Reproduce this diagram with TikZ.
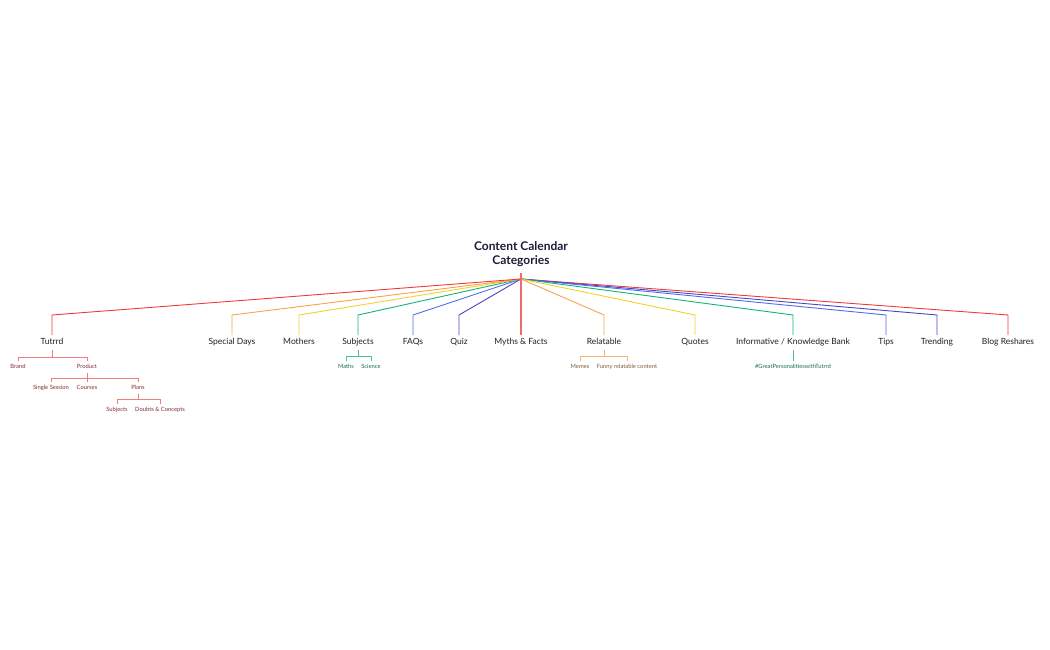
\documentclass[tikz,border=0pt]{standalone}
\usepackage{fontspec}
\setmainfont{Lato}
\usetikzlibrary{calc}
\definecolor{cred}{HTML}{EE3B36}
\definecolor{cpink}{HTML}{F06A6A}
\definecolor{corange}{HTML}{F7A24C}
\definecolor{cyellow}{HTML}{F4D02C}
\definecolor{cgreen}{HTML}{12B27A}
\definecolor{cblue}{HTML}{4F6AF0}
\definecolor{cindigo}{HTML}{4B45C2}
\definecolor{ctitle}{HTML}{1B1B3A}
\definecolor{clabel}{HTML}{1E1E28}
\definecolor{subred}{HTML}{7E2E2E}
\definecolor{subgreen}{HTML}{17704C}
\definecolor{suborange}{HTML}{7E5A38}
\definecolor{lred}{HTML}{F27B7B}
\definecolor{lgreen}{HTML}{45C592}
\definecolor{lorange}{HTML}{F7B77A}
\tikzset{
  title/.style={font=\bfseries\fontsize{12}{14.5}\selectfont, text=ctitle, align=center, inner sep=0pt},
  cat/.style={font=\fontsize{8.5}{9}\selectfont, text=clabel, text height=6pt, text depth=1.5pt, inner xsep=0pt, inner ysep=3.5pt},
  sub/.style={font=\fontsize{5.8}{6}\selectfont, text height=4pt, text depth=1pt, inner xsep=0pt, inner ysep=3pt},
  link/.style={line width=0.9pt, line join=miter},
  sublink/.style={line width=0.8pt},
}
\begin{document}
\begin{tikzpicture}[x=1pt,y=-1pt]
\useasboundingbox (0,0) rectangle (1050,650);
% root
\node[title] (root) at (521,254) {Content Calendar\\Categories};
\coordinate (rs) at (521,273);
\coordinate (j) at (521,279);
\coordinate (bend) at (0,315);
% categories
\node[cat] (tutrrd) at (52,342.5) {Tutrrd};
\node[cat] (special) at (232,342.5) {Special Days};
\node[cat] (mothers) at (299,342.5) {Mothers};
\node[cat] (subjects) at (358,342.5) {Subjects};
\node[cat] (faqs) at (413,342.5) {FAQs};
\node[cat] (quiz) at (459,342.5) {Quiz};
\node[cat] (myths) at (521,342.5) {Myths \& Facts};
\node[cat] (relatable) at (604,342.5) {Relatable};
\node[cat] (quotes) at (695,342.5) {Quotes};
\node[cat] (info) at (793,342.5) {Informative / Knowledge Bank};
\node[cat] (tips) at (886,342.5) {Tips};
\node[cat] (trending) at (937,342.5) {Trending};
\node[cat] (blog) at (1008,342.5) {Blog Reshares};
% connectors
\foreach \n/\c in {blog/cred, trending/cindigo, tips/cblue, info/cgreen, quotes/cyellow, relatable/corange,
                   quiz/cindigo, faqs/cblue, subjects/cgreen, mothers/cyellow, special/corange, tutrrd/cred}
  \draw[link, \c] (j) -- (\n.north |- bend) -- (\n.north);
\draw[line width=1.1pt, cpink] (rs) -- (myths.north);
% Tutrrd subtree
\node[sub, text=subred] (brand) at (18,367) {Brand};
\node[sub, text=subred] (product) at (87,367) {Product};
\node[sub, text=subred] (single) at (51,388) {Single Session};
\node[sub, text=subred] (courses) at (87,388) {Courses};
\node[sub, text=subred] (plans) at (138,388) {Plans};
\node[sub, text=subred] (psubj) at (117,410) {Subjects};
\node[sub, text=subred] (doubts) at (160,410) {Doubts \& Concepts};
\coordinate (b1) at (0,357);
\coordinate (b2) at (0,378);
\coordinate (b3) at (0,399);
\draw[sublink, lred] (tutrrd.south) -- (tutrrd.south |- b1);
\draw[sublink, lred] (brand.north) -- (brand.north |- b1) -- (product.north |- b1) -- (product.north);
\draw[sublink, lred] (product.south) -- (product.south |- b2);
\draw[sublink, lred] (single.north) -- (single.north |- b2) -- (plans.north |- b2) -- (plans.north);
\draw[sublink, lred] (courses.north) -- (courses.north |- b2);
\draw[sublink, lred] (plans.south) -- (plans.south |- b3);
\draw[sublink, lred] (psubj.north) -- (psubj.north |- b3) -- (doubts.north |- b3) -- (doubts.north);
% Subjects subtree
\node[sub, text=subgreen] (maths) at (346,367) {Maths};
\node[sub, text=subgreen] (science) at (371,367) {Science};
\coordinate (b4) at (0,356);
\draw[sublink, lgreen] (subjects.south) -- (subjects.south |- b4);
\draw[sublink, lgreen] (maths.north) -- (maths.north |- b4) -- (science.north |- b4) -- (science.north);
% Relatable subtree
\node[sub, text=suborange] (memes) at (580,367) {Memes};
\node[sub, text=suborange] (funny) at (627,367) {Funny relatable content};
\draw[sublink, lorange] (relatable.south) -- (relatable.south |- b4);
\draw[sublink, lorange] (memes.north) -- (memes.north |- b4) -- (funny.north |- b4) -- (funny.north);
% Informative subtree
\node[sub, text=subgreen] (great) at (793,367) {\#GreatPersonalitieswithTutrrd};
\draw[sublink, lgreen] (info.south) -- (great.north);
\end{tikzpicture}
\end{document}
